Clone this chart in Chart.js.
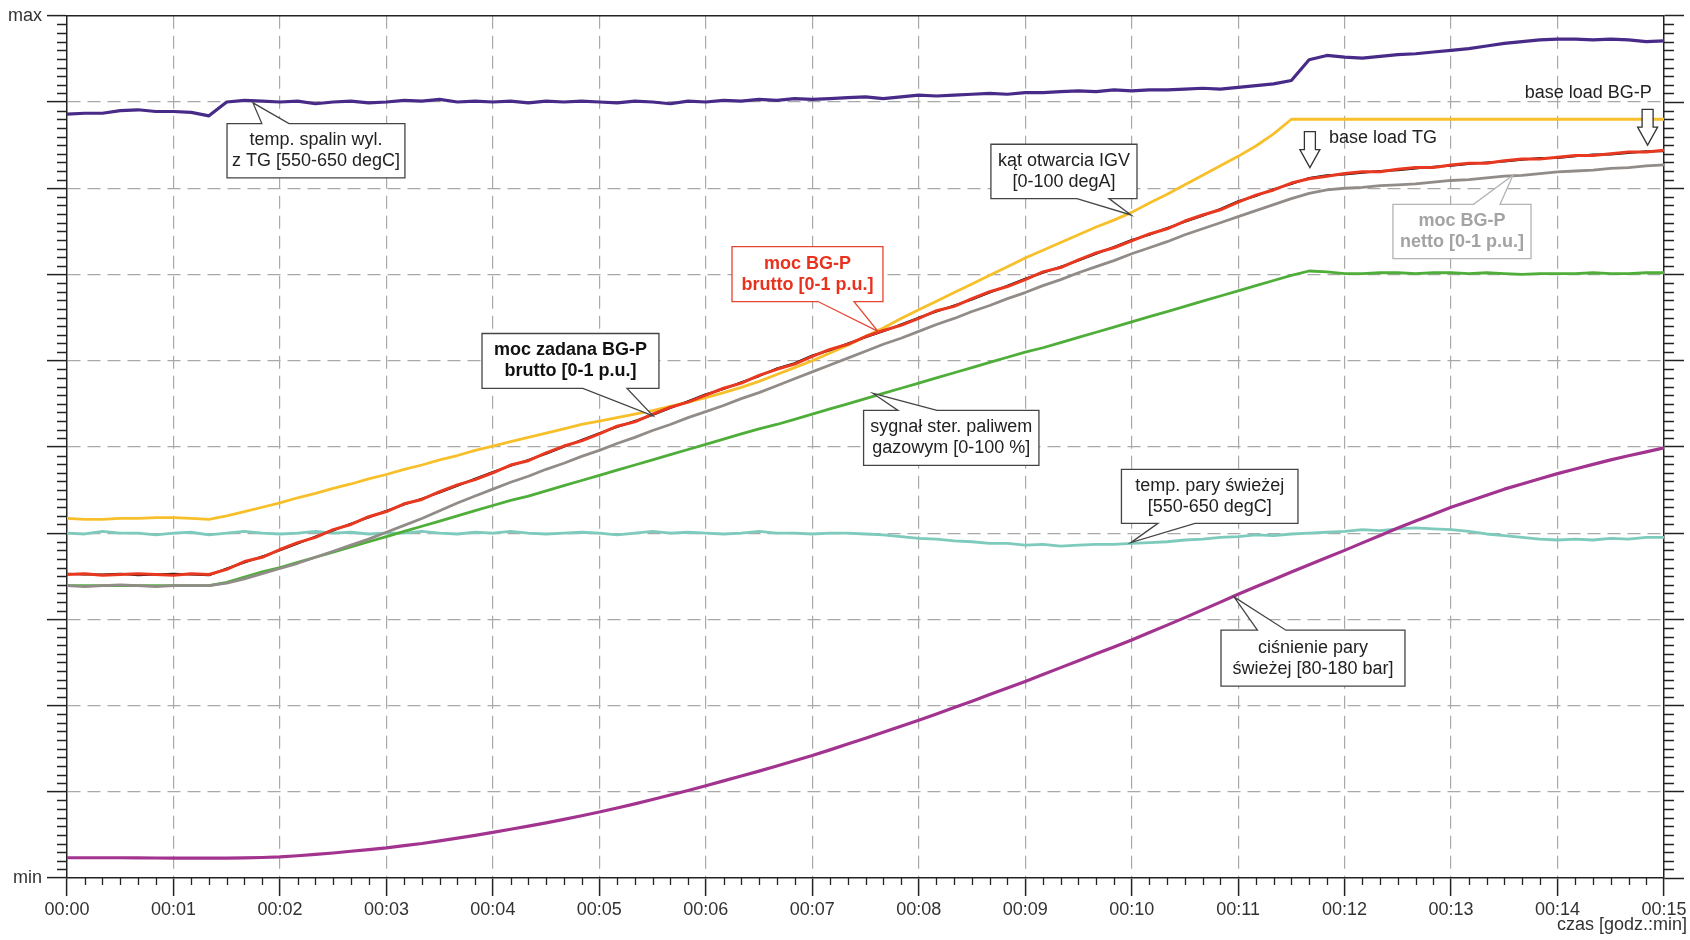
<!DOCTYPE html>
<html>
<head>
<meta charset="utf-8">
<title>Rozruch BG-P</title>
<script src="https://cdn.jsdelivr.net/npm/chart.js@4.4.1/dist/chart.umd.min.js"></script>
<style>
  html, body { margin: 0; padding: 0; background: #fff; }
  #wrap { width: 1690px; height: 940px; }
</style>
</head>
<body>
<div id="wrap"><canvas id="chart" width="1690" height="940"></canvas></div>
<script>
// sample times in minutes, one every 10 s (00:00 .. 00:15)
const minutes = Array.from({ length: 91 }, (_, i) => i / 6);

const xTickLabels = ['00:00', '00:01', '00:02', '00:03', '00:04', '00:05', '00:06', '00:07',
    '00:08', '00:09', '00:10', '00:11', '00:12', '00:13', '00:14', '00:15'];
const yTickLabels = ['min', 'max'];

// all series in % of the axis span (min = 0, max = 100)
const tempSpalin = [
    88.6, 88.7, 88.7, 89.0, 89.1, 88.9, 88.9, 88.8, 88.4,
    90.0, 90.2, 90.1, 90.0, 90.1, 89.8, 90.0, 90.1, 89.9, 90.0,
    90.2, 90.1, 90.3, 90.0, 90.1, 90.0,
    90.1, 89.9, 90.1, 90.0, 90.1, 90.0,
    89.9, 90.1, 90.0, 89.8, 90.1, 90.0,
    90.2, 90.1, 90.3, 90.2, 90.4, 90.3,
    90.4, 90.5, 90.6, 90.4, 90.6, 90.8,
    90.7, 90.8, 90.9, 91.0, 90.9, 91.1,
    91.1, 91.2, 91.3, 91.2, 91.4, 91.3,
    91.4, 91.4, 91.5, 91.6, 91.5, 91.7,
    91.9, 92.1, 92.5, 94.9, 95.4, 95.2,
    95.1, 95.3, 95.5, 95.6, 95.8, 96.0,
    96.2, 96.5, 96.8, 97.0, 97.2, 97.3,
    97.3, 97.2, 97.3, 97.2, 97.0, 97.1
];

const katIGV = [
    41.7, 41.6, 41.6, 41.7, 41.7, 41.8, 41.8, 41.7, 41.6,
    42.0, 42.5, 43.0, 43.5, 44.1, 44.6, 45.2, 45.7, 46.3, 46.8,
    47.4, 47.9, 48.5, 49.0, 49.6, 50.1,
    50.6, 51.1, 51.6, 52.1, 52.6, 53.0,
    53.4, 53.8, 54.2, 54.7, 55.2, 55.7,
    56.3, 56.9, 57.6, 58.4, 59.2, 60.0,
    60.9, 61.8, 62.8, 63.8, 64.9, 65.9,
    66.9, 67.9, 68.9, 69.9, 70.9, 71.9,
    72.8, 73.7, 74.6, 75.5, 76.3, 77.2,
    78.3, 79.3, 80.4, 81.5, 82.6, 83.7,
    84.9, 86.3, 88.0, 88.0, 88.0, 88.0,
    88.0, 88.0, 88.0, 88.0, 88.0, 88.0,
    88.0, 88.0, 88.0, 88.0, 88.0, 88.0,
    88.0, 88.0, 88.0, 88.0, 88.0, 88.0
];

const mocZadana = [
    35.3, 35.2, 35.2, 35.3, 35.1, 35.2, 35.3, 35.2, 35.1,
    35.9, 36.6, 37.3, 38.0, 38.8, 39.6, 40.3, 41.1, 41.8, 42.6,
    43.3, 44.0, 44.7, 45.5, 46.3, 47.1,
    47.8, 48.5, 49.2, 50.0, 50.8, 51.6,
    52.3, 53.0, 53.7, 54.5, 55.3, 56.1,
    56.7, 57.5, 58.2, 59.1, 59.7, 60.6,
    61.2, 62.0, 62.7, 63.4, 64.2, 65.0,
    65.7, 66.4, 67.1, 67.9, 68.7, 69.5,
    70.2, 70.9, 71.6, 72.4, 73.2, 74.0,
    74.6, 75.4, 76.1, 76.8, 77.6, 78.5,
    79.1, 79.9, 80.5, 81.2, 81.5, 81.6,
    81.8, 82.0, 82.1, 82.3, 82.5, 82.6,
    82.8, 83.0, 83.1, 83.3, 83.5, 83.5,
    83.7, 83.9, 83.9, 84.1, 84.3, 84.3
];

const mocBrutto = [
    35.2, 35.3, 35.1, 35.2, 35.3, 35.2, 35.1, 35.3, 35.2,
    35.8, 36.7, 37.2, 38.1, 38.9, 39.5, 40.4, 41.0, 41.9, 42.5,
    43.4, 43.9, 44.8, 45.6, 46.2, 47.0,
    47.9, 48.4, 49.3, 50.1, 50.7, 51.5,
    52.4, 52.9, 53.8, 54.6, 55.2, 56.0,
    56.8, 57.4, 58.3, 59.0, 59.6, 60.5,
    61.3, 61.9, 62.8, 63.5, 64.1, 64.9,
    65.8, 66.3, 67.2, 68.0, 68.6, 69.4,
    70.3, 70.8, 71.7, 72.5, 73.1, 73.9,
    74.7, 75.3, 76.2, 76.9, 77.5, 78.4,
    79.2, 79.8, 80.6, 81.1, 81.4, 81.7,
    81.9, 81.9, 82.2, 82.4, 82.4, 82.7,
    82.9, 82.9, 83.2, 83.4, 83.4, 83.6,
    83.8, 83.8, 84.0, 84.2, 84.2, 84.4
];

const mocNetto = [
    33.9, 33.8, 33.9, 34.0, 33.9, 33.8, 33.9, 33.9, 33.9,
    34.2, 34.7, 35.3, 35.9, 36.5, 37.2, 37.9, 38.6, 39.3, 40.1,
    40.9, 41.7, 42.6, 43.5, 44.3, 45.1,
    45.9, 46.6, 47.4, 48.1, 48.9, 49.6,
    50.4, 51.1, 51.9, 52.6, 53.4, 54.1,
    54.8, 55.6, 56.3, 57.1, 57.9, 58.7,
    59.5, 60.3, 61.1, 61.9, 62.6, 63.4,
    64.2, 64.9, 65.7, 66.4, 67.2, 67.9,
    68.7, 69.4, 70.2, 70.9, 71.6, 72.4,
    73.1, 73.8, 74.6, 75.3, 76.0, 76.7,
    77.4, 78.1, 78.8, 79.4, 79.8, 80.0,
    80.1, 80.3, 80.4, 80.5, 80.7, 80.9,
    81.0, 81.2, 81.4, 81.5, 81.7, 81.9,
    82.0, 82.1, 82.3, 82.4, 82.6, 82.7
];

const sygnalPaliwo = [
    33.9, 33.9, 33.9, 33.9, 33.9, 33.9, 33.9, 33.9, 33.9,
    34.3, 34.9, 35.5, 36.0, 36.6, 37.2, 37.8, 38.4, 39.0, 39.6,
    40.2, 40.8, 41.4, 42.0, 42.6, 43.2,
    43.8, 44.3, 44.9, 45.5, 46.1, 46.7,
    47.3, 47.9, 48.5, 49.1, 49.7, 50.3,
    50.9, 51.5, 52.1, 52.6, 53.2, 53.8,
    54.4, 55.0, 55.6, 56.2, 56.8, 57.4,
    58.0, 58.6, 59.2, 59.8, 60.4, 61.0,
    61.5, 62.1, 62.7, 63.3, 63.9, 64.5,
    65.1, 65.7, 66.3, 66.9, 67.5, 68.1,
    68.7, 69.3, 69.9, 70.4, 70.3, 70.1,
    70.1, 70.2, 70.2, 70.1, 70.2, 70.2,
    70.1, 70.2, 70.1, 70.0, 70.1, 70.1,
    70.1, 70.2, 70.1, 70.1, 70.2, 70.2
];

const tempPary = [
    40.0, 39.9, 40.2, 40.0, 40.0, 39.8, 40.0, 40.1, 39.8,
    40.0, 40.2, 40.0, 39.9, 40.0, 40.2, 40.0, 40.1, 39.9, 40.0,
    40.0, 40.2, 40.0, 39.9, 40.1, 40.0,
    40.2, 40.0, 39.9, 40.0, 40.1, 40.0,
    39.8, 40.0, 40.2, 40.0, 40.1, 40.0,
    39.9, 40.0, 40.2, 40.0, 40.0, 39.9,
    40.0, 40.0, 39.9, 39.8, 39.6, 39.4,
    39.3, 39.1, 39.0, 38.8, 38.8, 38.6,
    38.7, 38.5, 38.6, 38.7, 38.7, 38.8,
    38.9, 39.0, 39.2, 39.3, 39.5, 39.6,
    39.8, 39.7, 39.9, 40.0, 40.1, 40.2,
    40.4, 40.3, 40.5, 40.6, 40.5, 40.4,
    40.2, 39.9, 39.7, 39.5, 39.3, 39.2,
    39.3, 39.2, 39.4, 39.3, 39.5, 39.5
];

const cisnieniePary = [
    2.35, 2.35, 2.35, 2.35, 2.33, 2.32, 2.3, 2.3, 2.3,
    2.3, 2.33, 2.38, 2.45, 2.58, 2.73, 2.9, 3.1, 3.3, 3.5,
    3.75, 4.0, 4.3, 4.62, 4.95, 5.3,
    5.65, 6.02, 6.4, 6.8, 7.22, 7.65,
    8.12, 8.6, 9.1, 9.62, 10.15, 10.7,
    11.26, 11.83, 12.4, 13.0, 13.6, 14.2,
    14.86, 15.53, 16.2, 16.9, 17.6, 18.3,
    19.03, 19.77, 20.5, 21.27, 22.03, 22.8,
    23.6, 24.4, 25.2, 26.0, 26.8, 27.6,
    28.47, 29.33, 30.2, 31.1, 32.0, 32.9,
    33.77, 34.63, 35.5, 36.33, 37.17, 38.0,
    38.87, 39.73, 40.6, 41.4, 42.2, 43.0,
    43.7, 44.4, 45.1, 45.7, 46.3, 46.9,
    47.43, 47.97, 48.5, 48.97, 49.43, 49.9
];

const FONT = '"Liberation Sans", Arial, sans-serif';
Chart.defaults.font.family = FONT;

// callout boxes: box = [t from, t to, value top, value bottom], tail base on box edge, tip on the line
const callouts = [
    { lines: ['temp. spalin wyl.', 'z TG [550-650 degC]'], box: [1.503, 3.174, 87.5, 81.2],
      side: 'top', base: [1.83, 2.085], tip: [1.747, 89.9], color: '#222', edge: '#444', bold: false },
    { lines: ['moc zadana BG-P', 'brutto [0-1 p.u.]'], box: [3.898, 5.56, 63.15, 56.78],
      side: 'bottom', base: [4.846, 5.26], tip: [5.504, 53.6], color: '#111', edge: '#444', bold: true },
    { lines: ['moc BG-P', 'brutto [0-1 p.u.]'], box: [6.246, 7.664, 73.23, 66.86],
      side: 'bottom', base: [7.054, 7.392], tip: [7.617, 63.4], color: '#e8321e', edge: '#e8432f', bold: true },
    { lines: ['kąt otwarcia IGV', '[0-100 degA]'], box: [8.678, 10.05, 85.1, 78.8],
      side: 'bottom', base: [9.486, 9.787], tip: [9.994, 76.9], color: '#222', edge: '#444', bold: false },
    { lines: ['sygnał ster. paliwem', 'gazowym [0-100 %]'], box: [7.482, 9.129, 54.23, 47.86],
      side: 'top', base: [7.805, 8.171], tip: [7.571, 56.2], color: '#222', edge: '#444', bold: false },
    { lines: ['temp. pary świeżej', '[550-650 degC]'], box: [9.904, 11.562, 47.39, 41.14],
      side: 'bottom', base: [10.247, 10.595], tip: [9.993, 38.9], color: '#222', edge: '#444', bold: false },
    { lines: ['ciśnienie pary', 'świeżej [80-180 bar]'], box: [10.839, 12.567, 28.74, 22.25],
      side: 'top', base: [11.181, 11.449], tip: [10.961, 32.6], color: '#222', edge: '#444', bold: false },
    { lines: ['moc BG-P', 'netto [0-1 p.u.]'], box: [12.454, 13.751, 78.13, 71.84],
      side: 'top', base: [13.211, 13.46], tip: [13.581, 81.5], color: '#a3a3a3', edge: '#b3b3b3', bold: true }
];

const markers = [
    { text: 'base load TG', t: 11.674, top: 86.56, tipV: 82.39, labelT: 11.853, labelV: 85.8, align: 'left' },
    { text: 'base load BG-P', t: 14.846, top: 89.15, tipV: 85.0, labelT: 14.886, labelV: 91.1, align: 'right' }
];

const frame = {
    id: 'frame',
    afterDraw(chart) {
        const { ctx, chartArea: a, scales: { x, y } } = chart;
        ctx.save();
        ctx.strokeStyle = '#222';
        ctx.lineWidth = 1.3;
        ctx.beginPath();
        // minor ticks, 10 s on time axis, 1/100 on value axes
        for (let k = 1; k < 90; k++) {
            if (k % 6 === 0) continue;
            const px = Math.round(x.getPixelForValue(k / 6)) + 0.5;
            ctx.moveTo(px, a.bottom);
            ctx.lineTo(px, a.bottom + 7);
        }
        for (let k = 1; k < 100; k++) {
            if (k % 10 === 0) continue;
            const py = Math.round(y.getPixelForValue(k)) + 0.5;
            ctx.moveTo(a.left - 10, py);
            ctx.lineTo(a.left, py);
            ctx.moveTo(a.right, py);
            ctx.lineTo(a.right + 10, py);
        }
        ctx.stroke();
        ctx.lineWidth = 1.5;
        ctx.beginPath();
        ctx.moveTo(a.left, a.top);
        ctx.lineTo(a.right, a.top);
        ctx.stroke();

        ctx.fillStyle = '#333';
        ctx.font = '18px ' + FONT;
        ctx.textAlign = 'right';
        ctx.textBaseline = 'middle';
        ctx.fillText('czas [godz.:min]', chart.width - 3, a.bottom + 47);
        ctx.restore();
    }
};

const notes = {
    id: 'notes',
    afterDatasetsDraw(chart) {
        const { ctx, scales: { x, y } } = chart;
        ctx.save();
        callouts.forEach(c => {
            const x1 = x.getPixelForValue(c.box[0]), x2 = x.getPixelForValue(c.box[1]);
            const y1 = y.getPixelForValue(c.box[2]), y2 = y.getPixelForValue(c.box[3]);
            const bl = x.getPixelForValue(c.base[0]), br = x.getPixelForValue(c.base[1]);
            const tx = x.getPixelForValue(c.tip[0]), ty = y.getPixelForValue(c.tip[1]);
            ctx.beginPath();
            if (c.side === 'top') {
                ctx.moveTo(x1, y1); ctx.lineTo(bl, y1); ctx.lineTo(tx, ty); ctx.lineTo(br, y1);
                ctx.lineTo(x2, y1); ctx.lineTo(x2, y2); ctx.lineTo(x1, y2);
            } else {
                ctx.moveTo(x1, y1); ctx.lineTo(x2, y1); ctx.lineTo(x2, y2); ctx.lineTo(br, y2);
                ctx.lineTo(tx, ty); ctx.lineTo(bl, y2); ctx.lineTo(x1, y2);
            }
            ctx.closePath();
            ctx.fillStyle = '#fff';
            ctx.fill();
            ctx.strokeStyle = c.edge;
            ctx.lineWidth = 1.3;
            ctx.stroke();

            ctx.fillStyle = c.color;
            ctx.font = (c.bold ? 'bold ' : '') + '18px ' + FONT;
            ctx.textAlign = 'center';
            ctx.textBaseline = 'middle';
            const cx = (x1 + x2) / 2, cy = (y1 + y2) / 2;
            c.lines.forEach((s, i) => ctx.fillText(s, cx, cy + (i - (c.lines.length - 1) / 2) * 21));
        });

        markers.forEach(m => {
            const cx = x.getPixelForValue(m.t);
            const top = y.getPixelForValue(m.top), tip = y.getPixelForValue(m.tipV);
            const neck = tip - 18;
            ctx.beginPath();
            ctx.moveTo(cx - 5.5, top); ctx.lineTo(cx + 5.5, top); ctx.lineTo(cx + 5.5, neck);
            ctx.lineTo(cx + 10, neck); ctx.lineTo(cx, tip); ctx.lineTo(cx - 10, neck);
            ctx.lineTo(cx - 5.5, neck);
            ctx.closePath();
            ctx.fillStyle = '#fff';
            ctx.fill();
            ctx.strokeStyle = '#333';
            ctx.lineWidth = 1.3;
            ctx.stroke();

            ctx.fillStyle = '#222';
            ctx.font = '18px ' + FONT;
            ctx.textAlign = m.align;
            ctx.textBaseline = 'middle';
            ctx.fillText(m.text, x.getPixelForValue(m.labelT), y.getPixelForValue(m.labelV));
        });
        ctx.restore();
    }
};

function series(label, values, color, width) {
    return {
        label,
        data: minutes.map((t, i) => ({ x: t, y: values[i] })),
        borderColor: color,
        borderWidth: width,
        pointRadius: 0,
        tension: 0,
        fill: false,
        borderJoinStyle: 'round',
        borderCapStyle: 'round'
    };
}

const edge = (lo, hi) => c => (c.tick && (c.tick.value === lo || c.tick.value === hi)) ? 'rgba(0,0,0,0)' : '#a9a9a9';

// first dataset is drawn on top
new Chart(document.getElementById('chart'), {
    type: 'line',
    data: {
        datasets: [
            series('temp. spalin wyl. z TG', tempSpalin, '#482a88', 3.2),
            series('ciśnienie pary świeżej', cisnieniePary, '#a2348f', 3.2),
            series('moc BG-P brutto', mocBrutto, '#e8381f', 3),
            series('moc zadana BG-P brutto', mocZadana, '#111111', 2),
            series('kąt otwarcia IGV', katIGV, '#f7c02a', 2.8),
            series('moc BG-P netto', mocNetto, '#928c88', 2.8),
            series('sygnał ster. paliwem gazowym', sygnalPaliwo, '#4fae3a', 2.8),
            series('temp. pary świeżej', tempPary, '#7ecbbd', 2.8)
        ]
    },
    options: {
        responsive: false,
        animation: false,
        devicePixelRatio: 1,
        layout: { padding: { top: 15, left: 0, right: 0, bottom: 0 } },
        plugins: { legend: { display: false }, tooltip: { enabled: false } },
        scales: {
            x: {
                type: 'linear',
                position: 'bottom',
                min: 0,
                max: 15,
                afterFit: s => { s.height = 62; },
                ticks: {
                    stepSize: 1,
                    autoSkip: false,
                    maxRotation: 0,
                    padding: 3,
                    color: '#333',
                    font: { size: 18 },
                    callback: (v, i) => xTickLabels[i]
                },
                grid: { color: edge(0, 15), lineWidth: 1.2, tickLength: 18, tickColor: '#222', tickWidth: 1.5 },
                border: { display: true, color: '#222', width: 1.5, dash: [13, 7] }
            },
            y: {
                type: 'linear',
                position: 'left',
                min: 0,
                max: 100,
                afterFit: s => { s.width = 67; },
                ticks: {
                    stepSize: 10,
                    padding: 5,
                    color: '#333',
                    font: { size: 18 },
                    callback: v => v === 0 ? yTickLabels[0] : (v === 100 ? yTickLabels[1] : '')
                },
                grid: { color: edge(0, 100), lineWidth: 1.2, tickLength: 20, tickColor: '#222', tickWidth: 1.5 },
                border: { display: true, color: '#222', width: 1.5, dash: [13, 7] }
            },
            y2: {
                type: 'linear',
                position: 'right',
                min: 0,
                max: 100,
                afterFit: s => { s.width = 26; },
                ticks: { stepSize: 10, display: false },
                grid: { drawOnChartArea: false, tickLength: 20, tickColor: '#222', tickWidth: 1.5 },
                border: { display: true, color: '#222', width: 1.5 }
            }
        }
    },
    plugins: [frame, notes]
});
</script>
</body>
</html>
